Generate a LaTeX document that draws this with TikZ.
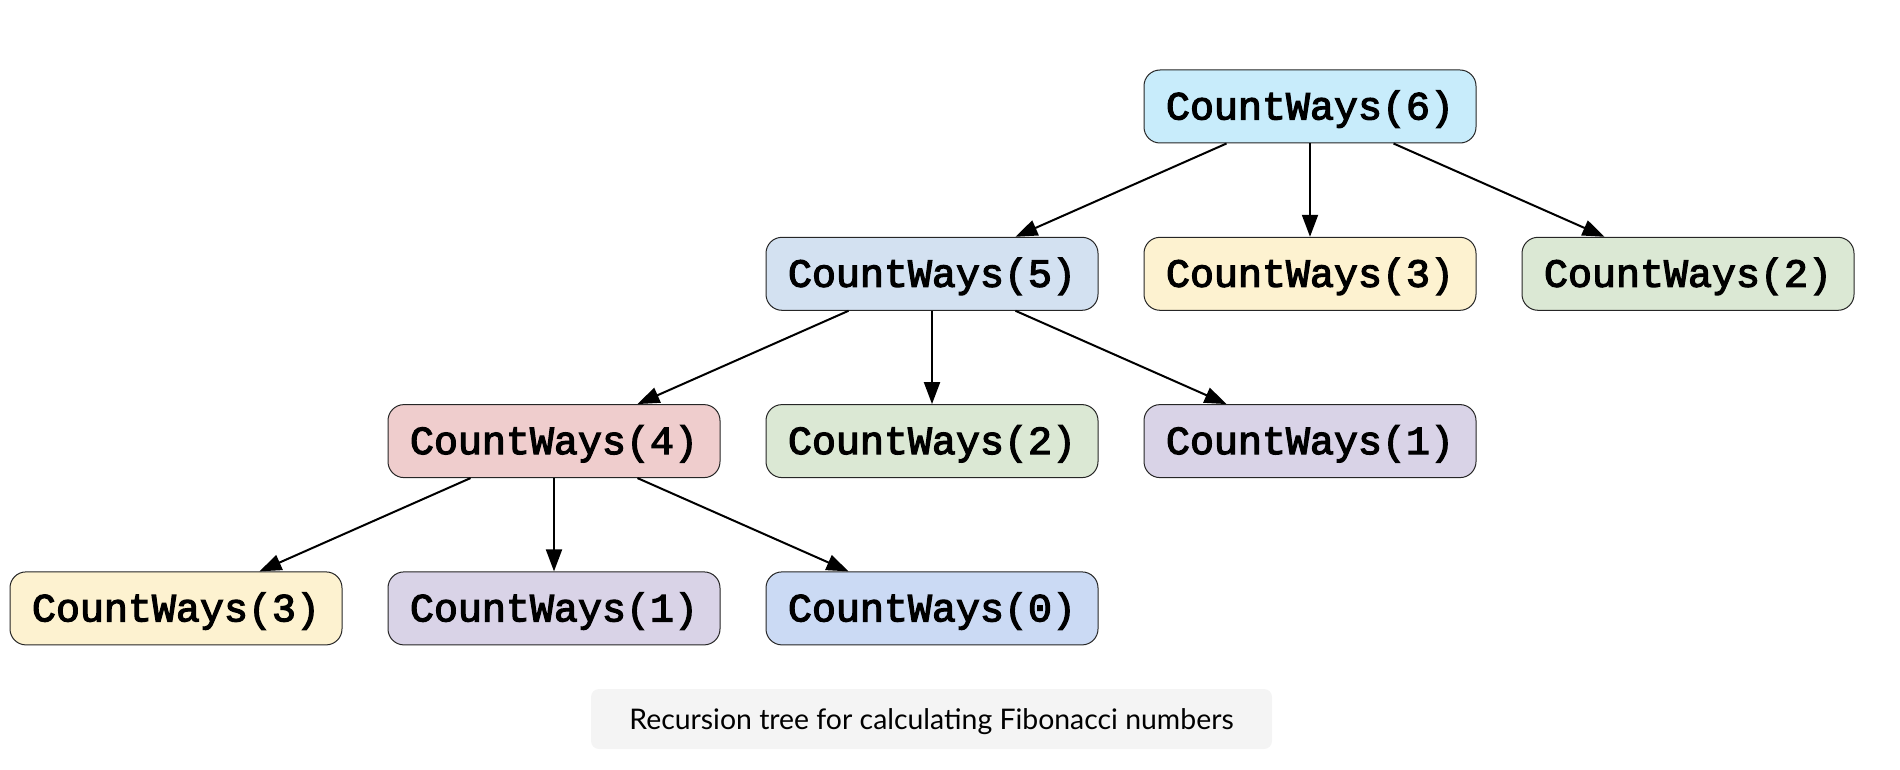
\documentclass[tikz,border=0pt]{standalone}
\usepackage{fontspec}
\newfontfamily\cwfont{Liberation Mono}[FakeBold=3]
\newfontfamily\capfont{Lato}
\usetikzlibrary{arrows.meta}
\definecolor{c6}{HTML}{C8ECFB}
\definecolor{c5}{HTML}{D3E1F1}
\definecolor{cthree}{HTML}{FDF2D0}
\definecolor{ctwo}{HTML}{DBE8D4}
\definecolor{cfour}{HTML}{EFCDCD}
\definecolor{cone}{HTML}{D9D3E7}
\definecolor{czero}{HTML}{CBDAF4}
\definecolor{capbg}{HTML}{F4F4F4}
\tikzset{
  cw/.style={draw=black!85, line width=1pt, rectangle, rounded corners=16pt,
    minimum width=332pt, minimum height=73pt, inner sep=0pt,
    text height=31pt, text depth=5pt,
    font=\fontsize{40}{44}\selectfont\cwfont},
  edge/.style={line width=2pt, -{Triangle[length=22pt,width=16pt]}},
  captionbox/.style={fill=capbg, rounded corners=8pt, minimum width=681pt,
    minimum height=60pt, inner sep=0pt, text height=22pt, text depth=1.6pt,
    font=\fontsize{28.4}{32}\selectfont\capfont}
}
\begin{document}
\begin{tikzpicture}[x=1pt,y=-1pt]
\useasboundingbox (0,0) rectangle (1900,770);
\node[cw, fill=c6] (n6) at (1310,106.5) {CountWays(6)};
\node[cw, fill=c5] (n5) at (932,273.8) {CountWays(5)};
\node[cw, fill=cthree] (n3a) at (1310,273.8) {CountWays(3)};
\node[cw, fill=ctwo] (n2a) at (1688,273.8) {CountWays(2)};
\node[cw, fill=cfour] (n4) at (554,441.1) {CountWays(4)};
\node[cw, fill=ctwo] (n2b) at (932,441.1) {CountWays(2)};
\node[cw, fill=cone] (n1a) at (1310,441.1) {CountWays(1)};
\node[cw, fill=cthree] (n3b) at (176,608.4) {CountWays(3)};
\node[cw, fill=cone] (n1b) at (554,608.4) {CountWays(1)};
\node[cw, fill=czero] (n0) at (932,608.4) {CountWays(0)};
\node[captionbox] (cap) at (931.5,719) {Recursion tree for calculating Fibonacci numbers};
\draw[edge] (n6) -- (n5);
\draw[edge] (n6) -- (n3a);
\draw[edge] (n6) -- (n2a);
\draw[edge] (n5) -- (n4);
\draw[edge] (n5) -- (n2b);
\draw[edge] (n5) -- (n1a);
\draw[edge] (n4) -- (n3b);
\draw[edge] (n4) -- (n1b);
\draw[edge] (n4) -- (n0);
\end{tikzpicture}
\end{document}
